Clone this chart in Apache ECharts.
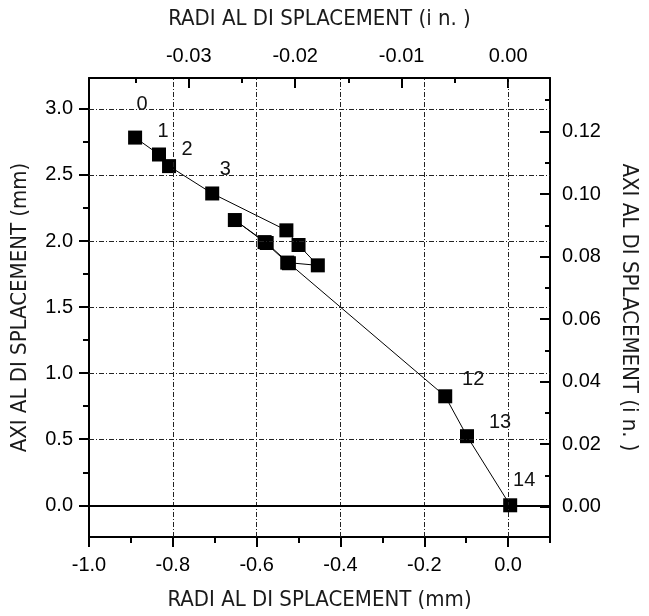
<!DOCTYPE html>
<html><head><meta charset="utf-8">
<script src="https://cdn.jsdelivr.net/npm/echarts@6/dist/echarts.min.js"></script>
<style>html,body{margin:0;padding:0;background:#fff}#c{width:649px;height:616px}</style>
</head><body><div id="c"></div>
<script>
// ---- data ----
const pointLabels = ['0','1','2','3','','','','','','','','','12','13','14'];
const radialMm = [-0.890,-0.833,-0.809,-0.706,-0.529,-0.500,-0.454,-0.527,-0.581,-0.652,-0.576,-0.523,-0.150,-0.098,0.005];
const axialMm  = [ 2.783, 2.655, 2.567, 2.360, 2.081, 1.970, 1.816, 1.837, 1.992, 2.159, 1.985, 1.832, 0.825, 0.523,0.000];

const bottomTicks = [-1.0,-0.8,-0.6,-0.4,-0.2,0.0];
const bottomMinorTicks = [-0.9,-0.7,-0.5,-0.3,-0.1,0.1];
const leftTicks = [0.0,0.5,1.0,1.5,2.0,2.5,3.0];
const leftMinorTicks = [0.25,0.75,1.25,1.75,2.25,2.75];
const topTicks = [-0.03,-0.02,-0.01,0.00];
const topMinorTicks = [-0.035,-0.025,-0.015,-0.005];
const rightTicks = [0.00,0.02,0.04,0.06,0.08,0.10,0.12];
const rightMinorTicks = [0.01,0.03,0.05,0.07,0.09,0.11,0.13];
const xGridValues = [-0.8,-0.6,-0.4,-0.2,0.0];
const yGridValues = [0.5,1.0,1.5,2.0,2.5,3.0];

const titleBottom = 'RADI AL DI SPLACEMENT (mm)';
const titleTop = 'RADI AL DI SPLACEMENT (i n. )';
const titleLeft = 'AXI AL DI SPLACEMENT (mm)';
const titleRight = 'AXI AL DI SPLACEMENT (i n. )';

// ---- styling ----
const numFont = "'Liberation Sans', Arial, sans-serif";
const nameFont = "'Liberation Sans Narrow', 'DejaVu Sans Condensed', 'Liberation Sans', sans-serif";
const labelOffsets = {'0':[7,-33],'1':[4,-23],'2':[18,-17],'3':[13,-24],'12':[28,-17],'13':[33,-14],'14':[14,-25]};

function fmt(d){ return v => Math.abs(v) < 1e-9 ? (0).toFixed(d) : Number(v).toFixed(d); }

function majorAxis(o){
  return Object.assign({
    type:'value', splitLine:{show:false},
    axisLine:{show:true, onZero:false, lineStyle:{color:'#000', width:2}},
    axisTick:{show:true, customValues:o.ticks, length:10, inside:!!o.inside, lineStyle:{color:'#000', width:2}},
    axisLabel:{show:true, customValues:o.ticks, formatter:fmt(o.dec), margin:o.margin, color:'#000', fontSize:20, fontFamily:numFont},
    name:o.title, nameLocation:'middle', nameGap:o.nameGap,
    nameTextStyle:{color:'#1a1a1a', fontSize:22, fontFamily:nameFont}
  }, o.extra);
}
function minorAxis(o){
  return Object.assign({
    type:'value', splitLine:{show:false},
    axisLine:{show:false, onZero:false},
    axisTick:{show:true, customValues:o.ticks, length:o.len, inside:!!o.inside, lineStyle:{color:'#000', width:2}},
    axisLabel:{show:false}
  }, o.extra);
}

const xMin = -1.0, xMax = 0.1;
const yMin = -0.24, yMax = 3.234;
const rMin = -0.0097, rMax = 0.1371;

const seriesData = radialMm.map((x,i)=>{
  const lab = pointLabels[i];
  const d = {value:[x, axialMm[i]], name:lab};
  if (lab) {
    d.label = {show:true, position:'inside', offset:labelOffsets[lab], formatter:lab,
      color:'#111', fontSize:20, fontFamily:numFont, align:'center', verticalAlign:'middle'};
  }
  return d;
});

const gridLineStyle = {color:'#222', width:1, type:[5,2,1,2]};
const gridMarks = [];
xGridValues.forEach(v=>gridMarks.push({xAxis:v, lineStyle:gridLineStyle}));
yGridValues.forEach(v=>gridMarks.push({yAxis:v, lineStyle:gridLineStyle}));
gridMarks.push({yAxis:0, lineStyle:{color:'#000', width:2, type:'solid'}});

const option = {
  animation:false,
  backgroundColor:'#fff',
  grid:{left:89, right:99, top:78, bottom:78, containLabel:false},
  xAxis:[
    majorAxis({ticks:bottomTicks, dec:1, margin:18, title:titleBottom, nameGap:52,
      extra:{position:'bottom', min:xMin, max:xMax}}),
    minorAxis({ticks:bottomMinorTicks, len:6, extra:{position:'bottom', min:xMin, max:xMax}}),
    majorAxis({ticks:topTicks, dec:2, margin:12, inside:true, title:titleTop, nameGap:48,
      extra:{position:'top', min:xMin/25.4, max:xMax/25.4}}),
    minorAxis({ticks:topMinorTicks, len:5, inside:true, extra:{position:'top', min:xMin/25.4, max:xMax/25.4}})
  ],
  yAxis:[
    majorAxis({ticks:leftTicks, dec:1, margin:16, title:titleLeft, nameGap:58,
      extra:{position:'left', min:yMin, max:yMax}}),
    minorAxis({ticks:leftMinorTicks, len:6, extra:{position:'left', min:yMin, max:yMax}}),
    majorAxis({ticks:rightTicks, dec:2, margin:12, inside:true, title:titleRight, nameGap:68,
      extra:{position:'right', min:rMin, max:rMax, nameRotate:-90}}),
    minorAxis({ticks:rightMinorTicks, len:5, inside:true, extra:{position:'right', min:rMin, max:rMax}})
  ],
  series:[
    {type:'line', xAxisIndex:0, yAxisIndex:0, data:[], z:1, silent:true,
      markLine:{silent:true, symbol:['none','none'], label:{show:false}, data:gridMarks, animation:false}},
    {type:'line', xAxisIndex:0, yAxisIndex:0, z:3, data:seriesData,
      symbol:'rect', symbolSize:14, showAllSymbol:true,
      lineStyle:{color:'#000', width:1}, itemStyle:{color:'#000'}, label:{show:false}}
  ]
};
echarts.init(document.getElementById('c'), null, {renderer:'canvas'}).setOption(option);
</script></body></html>
